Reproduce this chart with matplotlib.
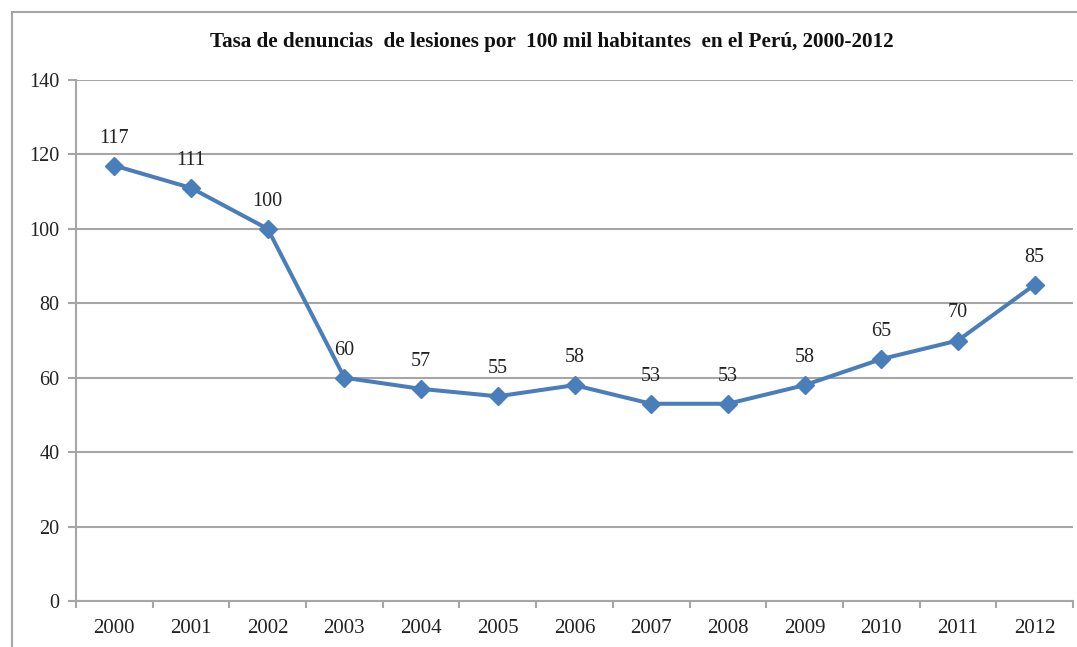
import matplotlib.pyplot as plt
from matplotlib.patches import Rectangle

years = ['2000', '2001', '2002', '2003', '2004', '2005', '2006',
         '2007', '2008', '2009', '2010', '2011', '2012']
tasa = [117, 111, 100, 60, 57, 55, 58, 53, 53, 58, 65, 70, 85]

plt.rcParams['font.family'] = ['Liberation Serif', 'DejaVu Serif']

fig = plt.figure(figsize=(10.77, 6.47), dpi=100)
ax = fig.add_axes([76 / 1077, 1 - 601 / 647, (1073 - 76) / 1077, (601 - 80) / 647])

# marco exterior del gráfico
fig.patches.append(Rectangle((12 / 1077, -0.1), 1.2, 1.1 - 12 / 647,
                             transform=fig.transFigure, fill=False,
                             edgecolor='#a6a6a6', linewidth=1.5))

x = list(range(len(years)))
ax.plot(x, tasa, color='#4a7ebb', linewidth=2.9, marker='D',
        markersize=9, markeredgecolor='#4a7ebb', zorder=3)

for xi, v in zip(x, tasa):
    ax.annotate(str(v), (xi, v), xytext=(0, 13), textcoords='offset points',
                ha='center', va='bottom', fontsize=14.5, color='#222222')

ax.set_xlim(-0.5, len(years) - 0.5)
ax.set_ylim(0, 140)
ax.set_yticks(range(0, 141, 20))
ax.set_xticks(x)
ax.set_xticklabels(years)
ax.set_xticks([i - 0.5 for i in range(len(years) + 1)], minor=True)
ax.tick_params(axis='x', which='major', length=0, pad=13, labelsize=15,
               labelcolor='#222222')
ax.tick_params(axis='x', which='minor', length=5, width=1.5, color='#a6a6a6')
ax.tick_params(axis='y', length=6, width=1.5, color='#a6a6a6', pad=6,
               labelsize=14.5, labelcolor='#222222')

ax.grid(axis='y', color='#a6a6a6', linewidth=1.5)
ax.set_axisbelow(True)
for s in ['top', 'right']:
    ax.spines[s].set_visible(False)
for s in ['left', 'bottom']:
    ax.spines[s].set_color('#a6a6a6')
    ax.spines[s].set_linewidth(1.5)

fig.text(552 / 1077, 1 - 42 / 647,
         'Tasa de denuncias  de lesiones por  100 mil habitantes  en el Perú, 2000-2012',
         ha='center', va='center', fontsize=15.2, fontweight='bold',
         color='#111111')

fig.savefig('out.png', dpi=100)
